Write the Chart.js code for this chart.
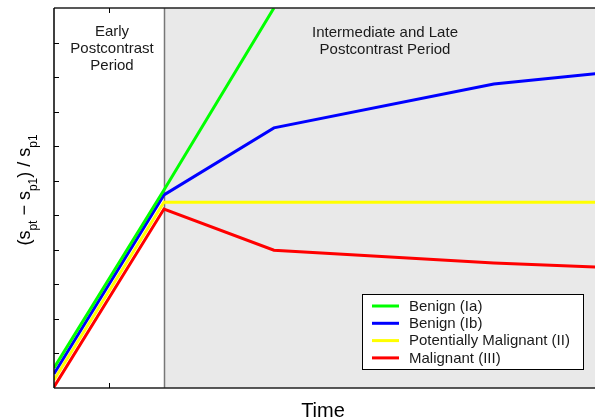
<!DOCTYPE html>
<html>
<head>
<meta charset="utf-8">
<script src="https://cdn.jsdelivr.net/npm/chart.js@4.4.1/dist/chart.umd.min.js"></script>
<style>
    html, body { margin: 0; padding: 0; background: #fff; overflow: hidden; }
    #wrap { width: 595px; height: 419px; }
</style>
</head>
<body>
<div id="wrap"><canvas id="enhChart" width="595" height="419"></canvas></div>
<script>
// time axis (arbitrary units), one value per measurement
const timePoints = [0, 2, 4, 8, 10];

// relative enhancement for each curve type
const benignIa = [0.58, 5.73, 11.0, null, null];
const benignIb = [0.41, 5.59, 7.53, 8.80, 9.12];
const potMalignant = [0.23, 5.38, 5.38, 5.38, 5.38];
const malignant = [0.03, 5.18, 3.99, 3.62, 3.49];

const seriesNames = ['Benign (Ia)', 'Benign (Ib)', 'Potentially Malignant (II)', 'Malignant (III)'];
const seriesColors = ['#00ff00', '#0000ff', '#ffff00', '#ff0000'];

const yTickValues = [1, 2, 3, 4, 5, 6, 7, 8, 9, 10];
const xTickValues = [1];
const earlyEnd = 2;

const FONT = '"Liberation Sans", Arial, Helvetica, sans-serif';

function toPoints(values) {
    return timePoints.map((t, i) => ({ x: t, y: values[i] }));
}

function drawYLabel(ctx, cx, cy) {
    // [text, isSubscript]
    const parts = [['(', false], ['s', false], ['pt', true], [' \u2212 ', false], ['s', false],
        ['p1', true], [')', false], [' / ', false], ['s', false], ['p1', true]];
    const mainFont = '18px ' + FONT;
    const subFont = '12px ' + FONT;
    ctx.save();
    let total = 0;
    parts.forEach(p => {
        ctx.font = p[1] ? subFont : mainFont;
        total += ctx.measureText(p[0]).width;
    });
    ctx.translate(cx, cy);
    ctx.rotate(-Math.PI / 2);
    ctx.fillStyle = '#000';
    ctx.textBaseline = 'alphabetic';
    ctx.textAlign = 'left';
    let u = -total / 2;
    parts.forEach(p => {
        ctx.font = p[1] ? subFont : mainFont;
        ctx.fillText(p[0], u, p[1] ? 7 : 0);
        u += ctx.measureText(p[0]).width;
    });
    ctx.restore();
}

const decorPlugin = {
    id: 'decor',
    beforeDatasetsDraw(chart) {
        const { ctx, chartArea: a, scales: { x } } = chart;
        const xe = Math.round(x.getPixelForValue(earlyEnd)) + 0.5;
        ctx.save();
        ctx.fillStyle = '#e9e9e9';
        ctx.fillRect(xe, a.top, a.right - xe, a.bottom - a.top);
        ctx.strokeStyle = '#777';
        ctx.lineWidth = 1.5;
        ctx.beginPath();
        ctx.moveTo(xe, a.top);
        ctx.lineTo(xe, a.bottom);
        ctx.stroke();
        ctx.restore();
    },
    afterDatasetsDraw(chart) {
        const { ctx, chartArea: a, scales: { x, y } } = chart;
        ctx.save();
        // frame
        ctx.strokeStyle = '#222';
        ctx.lineWidth = 1.5;
        ctx.beginPath();
        ctx.moveTo(a.left, a.top);
        ctx.lineTo(a.right, a.top);
        ctx.moveTo(a.left, a.bottom);
        ctx.lineTo(a.right, a.bottom);
        ctx.stroke();
        ctx.strokeStyle = '#000';
        ctx.beginPath();
        ctx.moveTo(a.left, a.top);
        ctx.lineTo(a.left, a.bottom);
        ctx.stroke();

        // inward ticks
        ctx.lineWidth = 1;
        ctx.beginPath();
        yTickValues.forEach(v => {
            const py = Math.round(y.getPixelForValue(v)) + 0.5;
            ctx.moveTo(a.left, py);
            ctx.lineTo(a.left + 5, py);
        });
        xTickValues.forEach(v => {
            const px = Math.round(x.getPixelForValue(v)) + 0.5;
            ctx.moveTo(px, a.top);
            ctx.lineTo(px, a.top + 5);
            ctx.moveTo(px, a.bottom);
            ctx.lineTo(px, a.bottom - 5);
        });
        ctx.stroke();

        // period annotations
        ctx.fillStyle = '#1a1a1a';
        ctx.font = '15px ' + FONT;
        ctx.textAlign = 'center';
        ctx.textBaseline = 'alphabetic';
        ['Early', 'Postcontrast', 'Period'].forEach((t, i) => ctx.fillText(t, 112, 35.5 + i * 17));
        ['Intermediate and Late', 'Postcontrast Period'].forEach((t, i) => ctx.fillText(t, 385, 36.5 + i * 17));

        // legend box
        const lx = 362, ly = 294, lw = 221, lh = 75;
        ctx.fillStyle = '#fff';
        ctx.fillRect(lx, ly, lw, lh);
        ctx.strokeStyle = '#000';
        ctx.lineWidth = 1;
        ctx.strokeRect(lx + 0.5, ly + 0.5, lw, lh);
        ctx.textAlign = 'left';
        ctx.textBaseline = 'middle';
        ctx.font = '15px ' + FONT;
        chart.data.datasets.forEach((ds, i) => {
            const ry = 306 + i * 17.3;
            ctx.strokeStyle = ds.borderColor;
            ctx.lineWidth = 3;
            ctx.beginPath();
            ctx.moveTo(372, ry);
            ctx.lineTo(399, ry);
            ctx.stroke();
            ctx.fillStyle = '#1a1a1a';
            ctx.fillText(ds.label, 409, ry + 0.5);
        });
        ctx.restore();
    },
    afterDraw(chart) {
        const { ctx } = chart;
        ctx.save();
        ctx.fillStyle = '#000';
        ctx.font = '20px ' + FONT;
        ctx.textAlign = 'center';
        ctx.textBaseline = 'alphabetic';
        ctx.fillText('Time', 323, 417);
        ctx.restore();
        drawYLabel(ctx, 30, 190);
    }
};

const ctx = document.getElementById('enhChart').getContext('2d');
const enhChart = new Chart(ctx, {
    type: 'line',
    data: {
        datasets: [benignIa, benignIb, potMalignant, malignant].map((vals, i) => ({
            label: seriesNames[i],
            data: toPoints(vals),
            borderColor: seriesColors[i],
            backgroundColor: seriesColors[i],
            borderWidth: 3,
            pointRadius: 0,
            tension: 0,
            fill: false
        }))
    },
    options: {
        responsive: false,
        animation: false,
        devicePixelRatio: 1,
        layout: { padding: { left: 54, top: 8, right: 0, bottom: 31 } },
        scales: {
            x: { type: 'linear', min: 0, max: 9.84, display: false },
            y: { type: 'linear', min: 0, max: 11, display: false }
        },
        plugins: {
            legend: { display: false },
            tooltip: { enabled: false }
        }
    },
    plugins: [decorPlugin]
});
</script>
</body>
</html>
